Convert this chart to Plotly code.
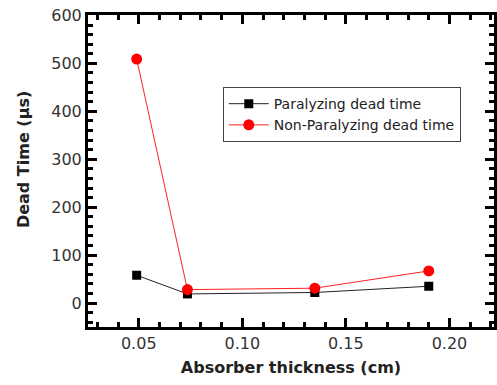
import plotly.graph_objects as go

thickness = [0.049, 0.0735, 0.135, 0.19]
paralyzing = [58, 19, 22, 35]
non_paralyzing = [509, 28, 31, 67]

x_ticks = [0.05, 0.10, 0.15, 0.20]
x_tick_text = ["0.05", "0.10", "0.15", "0.20"]
y_ticks = [0, 100, 200, 300, 400, 500, 600]

FONT = "DejaVu Sans"

fig = go.Figure()
fig.add_trace(go.Scatter(
    x=thickness, y=paralyzing, mode="lines+markers",
    name="Paralyzing dead time",
    line=dict(color="#222222", width=1),
    marker=dict(symbol="square", size=9, color="black"),
))
fig.add_trace(go.Scatter(
    x=thickness, y=non_paralyzing, mode="lines+markers",
    name="Non-Paralyzing dead time",
    line=dict(color="#ff2020", width=1),
    marker=dict(symbol="circle", size=11, color="red"),
))

axis_common = dict(
    showline=True, linecolor="black", linewidth=3, mirror="ticks",
    ticks="inside", ticklen=9, tickwidth=3, tickcolor="black",
    showgrid=False, zeroline=False,
    tickfont=dict(family=FONT, size=16, color="#333333"),
)

fig.update_xaxes(
    range=[0.0255, 0.2215], tickvals=x_ticks, ticktext=x_tick_text,
    minor=dict(dtick=0.01, tick0=0, ticks="inside", ticklen=5, tickwidth=3, tickcolor="black"),
    title=dict(text="<b>Absorber thickness (cm)</b>", standoff=10,
               font=dict(family=FONT, size=16, color="#222222")),
    **axis_common,
)
fig.update_yaxes(
    range=[-50, 601], tickvals=y_ticks,
    minor=dict(dtick=20, tick0=0, ticks="inside", ticklen=5, tickwidth=3, tickcolor="black"),
    **axis_common,
)

fig.add_annotation(
    text="<b>Dead Time (μs)</b>", textangle=-90,
    xref="paper", yref="paper", x=-0.16, y=0.535,
    xanchor="center", yanchor="middle", showarrow=False,
    font=dict(family=FONT, size=16, color="#222222"),
)

fig.update_layout(
    width=497, height=385,
    margin=dict(l=88, r=0, t=15, b=58),
    paper_bgcolor="white", plot_bgcolor="white",
    showlegend=True,
    legend=dict(
        x=0.332, y=0.769, xanchor="left", yanchor="top",
        bordercolor="#444444", borderwidth=1, bgcolor="white",
        font=dict(family=FONT, size=14, color="#222222"),
        tracegroupgap=0, itemwidth=40,
    ),
)

fig.write_html("out.html")
